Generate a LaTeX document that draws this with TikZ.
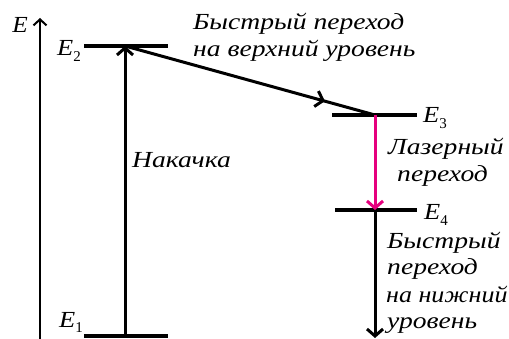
\documentclass[tikz,border=0pt]{standalone}
\usepackage{graphicx}
\usepackage{fontspec}
\setmainfont{Liberation Serif}
\usetikzlibrary{arrows.meta,decorations.markings}
\definecolor{laser}{HTML}{E6007E}
\newcommand\lvlname[2]{\scalebox{1.15}[1]{\textit{#1}}\raisebox{-0.25em}{\fontsize{15}{15}\selectfont #2}}
\newcommand\wtext[2][1.2]{\scalebox{#1}[1]{#2}}
\begin{document}
\begin{tikzpicture}[x=1pt,y=-1pt,
  level/.style={line width=4.5pt},
  trans/.style={line width=3pt,-{Straight Barb[length=7pt,width=16pt]}},
  lbl/.style={inner sep=0pt,font=\fontsize{23}{28}\selectfont\itshape},
  ename/.style={inner sep=0pt,font=\fontsize{23}{28}\selectfont}]
\useasboundingbox (0,0) rectangle (509,339);
% axis
\coordinate (ax0) at (40,339);
\coordinate (ax1) at (40,18);
\draw[line width=2pt,-{Straight Barb[length=6pt,width=13pt]}] (ax0) -- (ax1);
\node[ename,anchor=base east] (eaxis) at (28,33) {\scalebox{1.1}[1]{\textit{E}}};
% levels
\coordinate (e1l) at (84,336); \coordinate (e1r) at (168,336); \coordinate (e1m) at (125,336);
\coordinate (e2l) at (84,46);  \coordinate (e2r) at (168,46);  \coordinate (e2m) at (125,46);
\coordinate (e3l) at (332,115); \coordinate (e3r) at (417,115); \coordinate (e3m) at (375,115);
\coordinate (e4l) at (335,210); \coordinate (e4r) at (417,210); \coordinate (e4m) at (375,210);
\coordinate (bot) at (375,338);
\draw[level] (e1l) -- (e1r);
\draw[level] (e2l) -- (e2r);
\draw[level] (e3l) -- (e3r);
\draw[level] (e4l) -- (e4r);
\node[ename,anchor=base east] (n1) at (83,327) {\lvlname{E}{1}};
\node[ename,anchor=base east] (n2) at (81,56) {\lvlname{E}{2}};
\node[ename,anchor=base west] (n3) at (423,123) {\lvlname{E}{3}};
\node[ename,anchor=base west] (n4) at (424,220) {\lvlname{E}{4}};
% transitions
\draw[trans] (e1m) -- (e2m);
\draw[line width=3pt,postaction={decorate},
  decoration={markings,mark=at position 0.8 with {\arrow{Straight Barb[length=7pt,width=16pt,line width=3pt]}}}]
  (e2m) -- (e3m);
\draw[trans,laser] (e3m) -- (e4m);
\draw[trans] (e4m) -- (bot);
% texts
\node[lbl,anchor=base west] (t1) at (193,30) {\wtext{Быстрый переход}};
\node[lbl,anchor=base west] (t2) at (193,57) {\wtext{на верхний уровень}};
\node[lbl,anchor=base west] (t3) at (132,168) {\wtext{Накачка}};
\node[lbl,anchor=base west] (t4) at (388,155) {\wtext{Лазерный}};
\node[lbl,anchor=base west] (t5) at (397,182) {\wtext{переход}};
\node[lbl,anchor=base west] (t6) at (387,249) {\wtext{Быстрый}};
\node[lbl,anchor=base west] (t7) at (387,275) {\wtext{переход}};
\node[lbl,anchor=base west] (t8) at (386,302) {\wtext[1.13]{на нижний}};
\node[lbl,anchor=base west] (t9) at (387,328) {\wtext{уровень}};
\end{tikzpicture}
\end{document}
